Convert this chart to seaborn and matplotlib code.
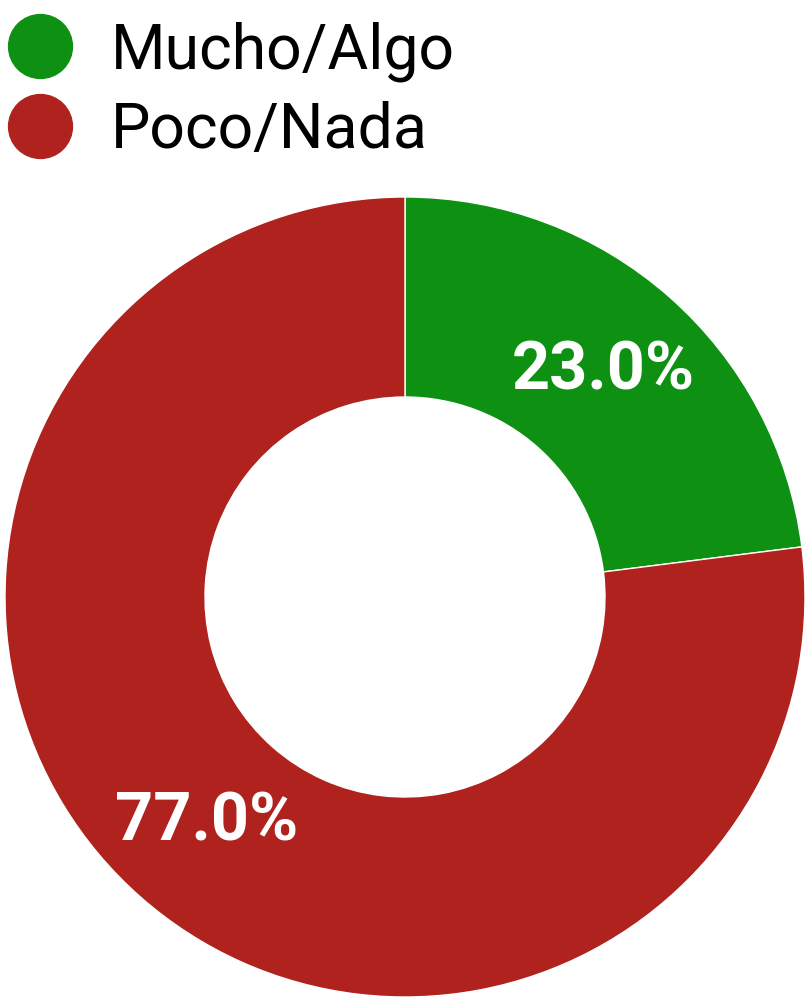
import matplotlib
matplotlib.use("Agg")
import matplotlib.pyplot as plt
from matplotlib.lines import Line2D
import seaborn as sns

# data
categories = ["Mucho/Algo", "Poco/Nada"]
shares = [23.0, 77.0]
colors = ["#0e9113", "#b0221e"]

sns.set_theme(style="white")
plt.rcParams["font.family"] = ["Roboto", "DejaVu Sans"]

fig = plt.figure(figsize=(8.07, 10), dpi=100)
ax = fig.add_axes([5 / 807, 3 / 1000, 800 / 807, 0.8])

wedges, texts, autotexts = ax.pie(
    shares,
    colors=colors,
    startangle=90,
    counterclock=False,
    autopct="%1.1f%%",
    pctdistance=0.75,
    wedgeprops=dict(width=0.5, edgecolor="white", linewidth=1),
    textprops=dict(color="white", fontsize=48, fontweight="bold"),
)
ax.set_xlim(-1, 1)
ax.set_ylim(-1, 1)
ax.set_aspect("equal")
ax.axis("off")

handles = [
    Line2D([], [], marker="o", linestyle="none", markersize=46,
           markerfacecolor=c, markeredgecolor=c)
    for c in colors
]
leg = fig.legend(handles, categories, loc="upper left",
                 bbox_to_anchor=(-0.02, 1.004), frameon=False, fontsize=45,
                 handlelength=1.0, handletextpad=0.64, labelspacing=0.31,
                 borderaxespad=0)
for t in leg.get_texts():
    t.set_color("black")

fig.savefig("out.png", dpi=100, facecolor="white")
